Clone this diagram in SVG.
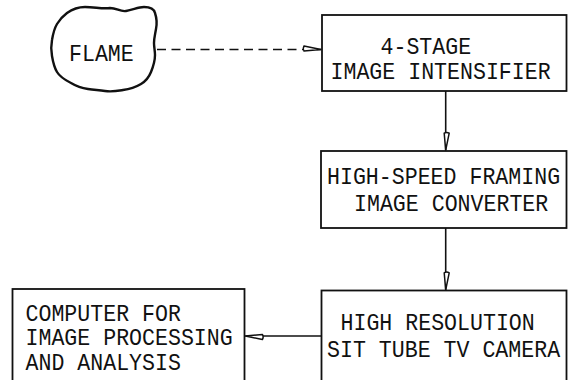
<svg xmlns="http://www.w3.org/2000/svg" width="568" height="380" viewBox="0 0 568 380">
<style>
.box{fill:#fff;stroke:#111;stroke-width:1.8}
.blob{fill:#fff;stroke:#111;stroke-width:2.4;stroke-linejoin:round}
.t{font-family:"Liberation Mono","DejaVu Sans Mono",monospace;font-size:21.6px;fill:#111}
.ln{fill:none;stroke:#111;stroke-width:1.6}
.dash{stroke-dasharray:9 5.5}
.ah{fill:#fff;stroke:#111;stroke-width:1.5;stroke-linejoin:round}
</style>
<defs>
<marker id="arr" markerUnits="userSpaceOnUse" markerWidth="24" markerHeight="12" viewBox="-20 -6 22 12" refX="0" refY="0" orient="auto">
<path class="ah" d="M0,0 L-17,-3.5 Q-18.5,-1 -17,1.5 Z"/>
</marker>
</defs>
<g id="flame">
<path class="blob" d="M67,13 C74,8 80,7 85,7 C95,7 102,9 110,8 C117,8 120,12 126,11 C133,10 138,7 144,7 C150,7 154,9 155,13 C157,19 157,24 156,29 C155,35 154,38 154,43 C154,47 155,51 155,55 C155,61 153,67 151,72 C149,77 146,81 141,84 C136,87 131,89 123,90 C117,91 112,92 105,91 C98,90 94,90 88,89 C81,88 76,86 71,83 C65,80 60,77 57,72 C54,67 53,62 52,56 C51,50 51,45 52,40 C53,34 54,29 57,24 C60,19 63,16 67,13 Z"/>
<text class="t" transform="translate(69,61) scale(1,1.1)">FLAME</text>
</g>
<g id="intensifier">
<rect class="box" x="322" y="15" width="244.5" height="76"/>
<text class="t" transform="translate(380.5,54) scale(1,1.1)">4-STAGE</text>
<text class="t" transform="translate(330.5,79) scale(1,1.1)">IMAGE INTENSIFIER</text>
</g>
<g id="converter">
<rect class="box" x="321" y="151" width="245.5" height="77"/>
<text class="t" transform="translate(327,184) scale(1,1.1)">HIGH-SPEED FRAMING</text>
<text class="t" transform="translate(354,210.5) scale(1,1.1)">IMAGE CONVERTER</text>
</g>
<g id="camera">
<rect class="box" x="321.5" y="290.5" width="245" height="100"/>
<text class="t" transform="translate(340.5,330) scale(1,1.1)">HIGH RESOLUTION</text>
<text class="t" transform="translate(327,356.5) scale(1,1.1)">SIT TUBE TV CAMERA</text>
</g>
<g id="computer">
<rect class="box" x="12.5" y="289" width="232" height="100"/>
<text class="t" transform="translate(25.5,320.5) scale(1,1.1)">COMPUTER FOR</text>
<text class="t" transform="translate(25.5,345) scale(1,1.1)">IMAGE PROCESSING</text>
<text class="t" transform="translate(25.5,370) scale(1,1.1)">AND ANALYSIS</text>
</g>
<g id="connectors">
<path class="ln dash" d="M157,49.5 L321,49.5" marker-end="url(#arr)"/>
<path class="ln" d="M445.7,91 L445.7,150.2" marker-end="url(#arr)"/>
<path class="ln" d="M445.7,228 L445.7,289.8" marker-end="url(#arr)"/>
<path class="ln" d="M321.5,336 L245.4,336" marker-end="url(#arr)"/>
</g>
</svg>
